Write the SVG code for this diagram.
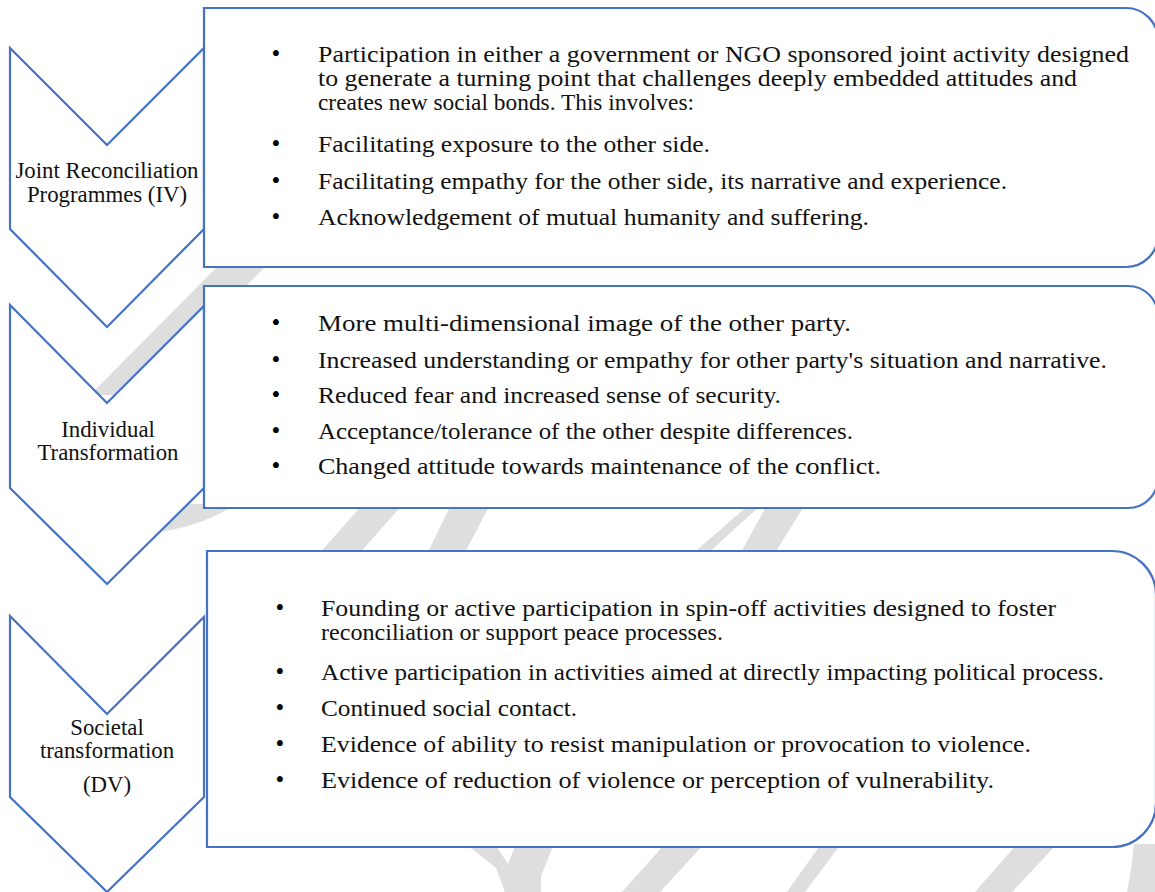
<svg xmlns="http://www.w3.org/2000/svg" width="1155" height="892" viewBox="0 0 1155 892">
  <style>
    .shape { fill: #ffffff; stroke: #4472C4; stroke-width: 2.2; stroke-linejoin: miter; }
    .mark { fill: #dedede; stroke: none; }
    .label { font-family: "Liberation Serif", "Times New Roman", serif; font-size: 22.8px; fill: #111111; text-anchor: middle; }
    .body { font-family: "Liberation Serif", "Times New Roman", serif; font-size: 24px; fill: #111111; }
    .dot { font-family: "Liberation Serif", "Times New Roman", serif; font-size: 25px; fill: #000000; text-anchor: middle; }
  </style>

  <rect x="0" y="0" width="1155" height="892" fill="#ffffff"/>

  <!-- faint background watermark strokes -->
  <g id="watermark">
    <polygon class="mark" points="222,262 270,262 137,395 90,395"/>
    <path class="mark" d="M150,533 Q200,528 236,504 L150,504 Z"/>
    <polygon class="mark" points="364,503 404,503 357,556 317,556"/>
    <polygon class="mark" points="452,503 491,503 463,556 426,556"/>
    <polygon class="mark" points="751,503 763,503 705,556 690,556"/>
    <polygon class="mark" points="768,503 806,503 773,556 739,556"/>
    <path class="mark" d="M466,844 L495,844 L508,864 L516,844 L554,844 L541,876 L541,892 L505,892 L496,868 Z"/>
    <polygon class="mark" points="665,844 704,844 660,892 622,892"/>
    <polygon class="mark" points="821,844 841,844 805,892 787,892"/>
    <polygon class="mark" points="1017,844 1057,844 1012,892 975,892"/>
    <path class="mark" d="M1134,844 L1155,844 L1155,892 L1127,892 Q1132,868 1134,844 Z"/>
  </g>

  <!-- left column: stage chevrons -->
  <g id="stage-iv">
    <polygon class="shape" points="10,48 107,145 204,48 204,229 107,327 10,229"/>
    <text class="label" x="107" y="178">Joint Reconciliation</text>
    <text class="label" x="107" y="202">Programmes (IV)</text>
  </g>
  <g id="stage-individual">
    <polygon class="shape" points="10,305 107,403 204,306 204,488 107,584 10,488"/>
    <text class="label" x="108" y="437">Individual</text>
    <text class="label" x="108" y="460">Transformation</text>
  </g>
  <g id="stage-societal">
    <polygon class="shape" points="10,616 107,714 204,617 204,797 107,892 10,797"/>
    <text class="label" x="107" y="735">Societal</text>
    <text class="label" x="107" y="758">transformation</text>
    <text class="label" x="107" y="792">(DV)</text>
  </g>

  <!-- right column: detail panels -->
  <g id="panel-iv">
    <path class="shape" d="M204,8 H1126 A32,32 0 0 1 1158,40 V235 A32,32 0 0 1 1126,267 H204 Z"/>
    <text class="dot" x="276" y="62">•</text>
    <text class="body" x="318" y="62" textLength="811" lengthAdjust="spacingAndGlyphs">Participation in either a government or NGO sponsored joint activity designed</text>
    <text class="body" x="318" y="86" textLength="759" lengthAdjust="spacingAndGlyphs">to generate a turning point that challenges deeply embedded attitudes and</text>
    <text class="body" x="318" y="110" textLength="376" lengthAdjust="spacingAndGlyphs">creates new social bonds. This involves:</text>
    <text class="dot" x="276" y="152">•</text>
    <text class="body" x="318" y="152" textLength="392" lengthAdjust="spacingAndGlyphs">Facilitating exposure to the other side.</text>
    <text class="dot" x="276" y="189">•</text>
    <text class="body" x="318" y="189" textLength="689" lengthAdjust="spacingAndGlyphs">Facilitating empathy for the other side, its narrative and experience.</text>
    <text class="dot" x="276" y="225">•</text>
    <text class="body" x="318" y="225" textLength="551" lengthAdjust="spacingAndGlyphs">Acknowledgement of mutual humanity and suffering.</text>
  </g>

  <g id="panel-individual">
    <path class="shape" d="M204,286 H1128 A30,30 0 0 1 1158,316 V478 A30,30 0 0 1 1128,508 H204 Z"/>
    <text class="dot" x="276" y="331">•</text>
    <text class="body" x="318" y="331" textLength="533" lengthAdjust="spacingAndGlyphs">More multi-dimensional image of the other party.</text>
    <text class="dot" x="276" y="368">•</text>
    <text class="body" x="318" y="368" textLength="789" lengthAdjust="spacingAndGlyphs">Increased understanding or empathy for other party's situation and narrative.</text>
    <text class="dot" x="276" y="403">•</text>
    <text class="body" x="318" y="403" textLength="463" lengthAdjust="spacingAndGlyphs">Reduced fear and increased sense of security.</text>
    <text class="dot" x="276" y="439">•</text>
    <text class="body" x="318" y="439" textLength="535" lengthAdjust="spacingAndGlyphs">Acceptance/tolerance of the other despite differences.</text>
    <text class="dot" x="276" y="474">•</text>
    <text class="body" x="318" y="474" textLength="563" lengthAdjust="spacingAndGlyphs">Changed attitude towards maintenance of the conflict.</text>
  </g>

  <g id="panel-societal">
    <path class="shape" d="M207,551 H1112 A44,44 0 0 1 1156,595 V803 A44,44 0 0 1 1112,847 H207 Z"/>
    <text class="dot" x="280" y="616">•</text>
    <text class="body" x="321" y="616" textLength="735" lengthAdjust="spacingAndGlyphs">Founding or active participation in spin-off activities designed to foster</text>
    <text class="body" x="321" y="640" textLength="402" lengthAdjust="spacingAndGlyphs">reconciliation or support peace processes.</text>
    <text class="dot" x="280" y="680">•</text>
    <text class="body" x="321" y="680" textLength="783" lengthAdjust="spacingAndGlyphs">Active participation in activities aimed at directly impacting political process.</text>
    <text class="dot" x="280" y="716">•</text>
    <text class="body" x="321" y="716" textLength="256" lengthAdjust="spacingAndGlyphs">Continued social contact.</text>
    <text class="dot" x="280" y="752">•</text>
    <text class="body" x="321" y="752" textLength="710" lengthAdjust="spacingAndGlyphs">Evidence of ability to resist manipulation or provocation to violence.</text>
    <text class="dot" x="280" y="788">•</text>
    <text class="body" x="321" y="788" textLength="673" lengthAdjust="spacingAndGlyphs">Evidence of reduction of violence or perception of vulnerability.</text>
  </g>
</svg>
